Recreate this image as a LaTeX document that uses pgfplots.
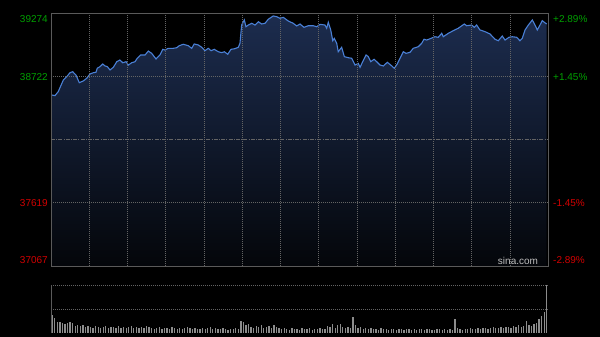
\documentclass[border=0pt]{standalone}
\usepackage{fontspec}
\setmainfont{Liberation Sans}
\usepackage{pgfplots}
\usepackage{pgfplotstable}
\pgfplotsset{compat=1.18}
\definecolor{upgreen}{RGB}{0,160,0}
\definecolor{downred}{RGB}{210,0,0}
\definecolor{framec}{RGB}{90,90,90}
\definecolor{gridc}{RGB}{100,100,100}
\definecolor{linec}{RGB}{74,128,214}
\definecolor{filltop}{RGB}{28,44,78}
\definecolor{fillbot}{RGB}{4,6,10}
\definecolor{volc}{RGB}{140,140,140}
\definecolor{sinac}{RGB}{190,190,190}

\pgfplotstableread[row sep=\\]{
m p\\
0.5 38559\\ 3.1 38553\\ 5.7 38588\\ 9.7 38690\\ 12.3 38718\\ 14.9 38753\\ 17.0 38762\\ 19.6 38733\\
22.2 38666\\ 25.3 38681\\ 28.0 38704\\ 30.6 38742\\ 33.2 38753\\ 35.3 38757\\ 36.3 38792\\ 38.5 38806\\
40.6 38829\\ 42.4 38812\\ 44.2 38806\\ 46.3 38777\\ 48.9 38800\\ 51.6 38849\\ 54.1 38864\\ 56.3 38840\\
58.9 38849\\ 60.7 38820\\ 63.3 38840\\ 65.9 38849\\ 67.7 38879\\ 70.4 38908\\ 73.8 38908\\ 76.4 38942\\
79.0 38922\\ 82.4 38873\\ 85.5 38908\\ 87.7 38957\\ 89.5 38951\\ 92.0 38966\\ 96.0 38966\\ 98.6 38971\\
100.7 38989\\ 103.8 39001\\ 107.7 38989\\ 110.4 38966\\ 112.4 39004\\ 115.6 38995\\ 118.3 38975\\ 120.8 38945\\
123.4 38966\\ 125.6 38945\\ 128.1 38957\\ 131.3 38936\\ 134.0 38928\\ 136.0 38936\\ 138.7 38914\\ 141.2 38957\\
144.4 38963\\ 147.0 38975\\ 148.3 39010\\ 149.6 39169\\ 151.7 39213\\ 153.0 39154\\ 154.8 39169\\ 157.5 39184\\
160.1 39169\\ 162.7 39198\\ 165.3 39178\\ 167.9 39184\\ 170.5 39219\\ 174.4 39248\\ 177.1 39242\\ 179.7 39228\\
182.3 39236\\ 186.2 39204\\ 190.1 39184\\ 192.8 39161\\ 195.4 39178\\ 198.5 39149\\ 201.9 39163\\ 205.8 39163\\
208.5 39154\\ 211.1 39175\\ 215.0 39169\\ 216.3 39141\\ 217.6 39193\\ 219.5 39126\\ 221.1 39032\\ 222.3 39053\\
224.2 39010\\ 225.4 38936\\ 228.1 38975\\ 230.2 38893\\ 233.3 38884\\ 236.0 38879\\ 238.6 38820\\ 241.1 38835\\
242.5 38800\\ 244.6 38849\\ 247.2 38908\\ 249.0 38893\\ 250.9 38849\\ 253.5 38870\\ 255.6 38849\\ 258.2 38820\\
260.8 38812\\ 263.9 38844\\ 266.6 38820\\ 269.4 38792\\ 271.7 38829\\ 273.9 38879\\ 276.5 38936\\ 278.6 38922\\
281.7 38931\\ 284.3 38966\\ 288.2 38980\\ 290.9 39010\\ 292.7 39045\\ 294.8 39038\\ 296.9 39047\\ 301.3 39067\\
303.9 39062\\ 306.6 39097\\ 307.8 39067\\ 311.8 39097\\ 315.7 39120\\ 319.6 39141\\ 324.3 39178\\ 326.2 39163\\
330.1 39169\\ 332.2 39149\\ 334.0 39169\\ 336.6 39126\\ 340.6 39111\\ 344.5 39091\\ 348.4 39045\\ 351.0 39032\\
354.1 39073\\ 356.3 39038\\ 359.4 39062\\ 362.0 39067\\ 365.4 39062\\ 368.0 39032\\ 369.8 39053\\ 372.0 39126\\
374.6 39169\\ 377.7 39213\\ 379.8 39169\\ 381.6 39126\\ 383.7 39169\\ 385.5 39207\\ 387.6 39189\\ 389.0 39178\\
}\price

\begin{document}
\begin{tikzpicture}
\fill[black] (0pt,0pt) rectangle (600pt,337pt);
\begin{axis}[
  at={(51pt,71pt)}, anchor=south west,
  scale only axis, width=497pt, height=253pt,
  xmin=0, xmax=390, ymin=37067, ymax=39274,
  scaled y ticks=false, scaled x ticks=false,
  axis on top,
  axis line style={framec, line width=0.9pt},
  xtick={30,60,...,360}, ytick={37619,38722},
  xticklabels={}, yticklabels={},
  extra y ticks={38170.5}, extra y tick labels={},
  extra y tick style={major grid style={gridc, line width=0.5pt, dash pattern=on 4pt off 1.2pt on 1pt off 1.2pt}},
  tick style={draw=none},
  grid=major,
  major grid style={gridc, line width=0.5pt, dash pattern=on 1pt off 1pt},
]
\addplot[draw=none, top color=filltop, bottom color=fillbot] table[x=m,y=p]{\price} |- (axis cs:0.5,37067) -- cycle;
\addplot[linec, line width=1.1pt] table[x=m,y=p]{\price};
\end{axis}

\begin{axis}[
  at={(51pt,4pt)}, anchor=south west,
  scale only axis, width=497pt, height=48pt,
  xmin=0, xmax=390, ymin=0, ymax=48,
  scaled y ticks=false,
  axis line style={draw=none},
  xtick=\empty, ytick={24,48}, yticklabels={},
  tick style={draw=none},
  ymajorgrids,
  major grid style={gridc, line width=0.6pt, dash pattern=on 1pt off 1pt},
]
\addplot[ycomb, volc, line width=1.3pt] coordinates {
(1,18)(3,15)(5,11)(7,11)(9,10)(11,9)(13,10)(15,11)(17,10)(19,7)(21,8)
(23,7)(25,8)(27,6)(29,7)(31,6)(33,5)(35,7)(37,6)(39,5)(41,6)(43,7)(45,5)(47,6)(49,6)(51,5)(53,7)(55,5)(57,6)(59,5)(61,6)(63,7)(65,5)(67,6)(69,5)(71,6)(73,5)(75,7)(77,6)
(79,5)(81,4)(83,5)(85,6)(87,4)(89,5)(91,5)(93,4)(95,6)(97,5)(99,4)(101,5)(103,4)(105,5)(107,6)(109,5)(111,4)(113,5)(115,4)(117,4)(119,5)(121,4)(123,5)(125,6)(127,4)(129,5)(131,4)(133,4)(135,5)(137,4)(139,3)(141,4)(143,4)(145,5)(147,4)
(149,12)(151,11)(153,8)(155,9)
(157,6)(159,5)(161,7)(163,6)(165,8)(167,5)(169,6)(171,7)(173,5)(175,8)(177,6)(179,5)
(181,4)(183,5)(185,4)(187,3)(189,5)(191,4)(193,4)(195,3)(197,5)(199,4)(201,4)(203,5)(205,3)(207,4)(209,4)(211,5)(213,4)(215,4)
(217,7)(219,6)(221,9)(223,5)(225,8)(227,9)(229,6)
(231,5)(233,6)(235,5)(237,16)
(239,8)(241,5)(243,6)(245,4)(247,5)(249,4)(251,5)(253,4)(255,4)(257,3)(259,5)(261,4)(263,4)(265,3)(267,4)(269,4)(271,3)(273,4)(275,4)(277,3)(279,4)(281,4)(283,3)(285,4)(287,3)(289,4)(291,4)(293,3)(295,4)(297,4)(299,3)(301,3)(303,4)(305,4)(307,3)(309,4)(311,3)(313,4)(315,3)
(317,14)
(319,5)(321,4)(323,3)(325,4)(327,4)(329,5)(331,4)(333,4)(335,5)(337,4)(339,5)(341,5)(343,4)(345,5)(347,6)(349,5)(351,5)(353,6)(355,5)(357,6)(359,6)(361,5)(363,7)(365,6)(367,8)(369,6)(371,7)
(373,12)(375,8)(377,7)(379,9)(381,10)(383,14)(385,17)(387,21)(389,48)
};
\draw[framec, line width=0.9pt] (rel axis cs:0,0) -- (rel axis cs:0,1);
\end{axis}

\begin{scope}[every node/.style={inner sep=0pt, font=\fontsize{10}{12}\selectfont}]
\node[anchor=east, text=upgreen] at (48pt,318pt) {39274};
\node[anchor=east, text=upgreen] at (48pt,260pt) {38722};
\node[anchor=east, text=downred] at (48pt,134pt) {37619};
\node[anchor=east, text=downred] at (48pt,77pt) {37067};
\node[anchor=west, text=upgreen] at (553pt,318pt) {+2.89\%};
\node[anchor=west, text=upgreen] at (553pt,260pt) {+1.45\%};
\node[anchor=west, text=downred] at (553pt,134pt) {-1.45\%};
\node[anchor=west, text=downred] at (553pt,77pt) {-2.89\%};
\node[text=sinac] at (518pt,76pt) {sina.com};
\end{scope}
\end{tikzpicture}
\end{document}
